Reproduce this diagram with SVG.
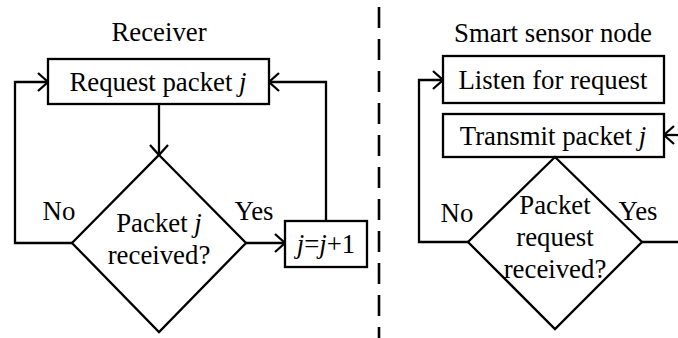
<svg xmlns="http://www.w3.org/2000/svg" width="678" height="338" viewBox="0 0 678 338">
  <style>
    text { font-family: "Liberation Serif", "Times New Roman", serif; font-size: 26.8px; fill: #000; text-anchor: middle; }
    .it { font-style: italic; }
    .shape { fill: #fff; stroke: #000; stroke-width: 2.3; }
    .wire { fill: none; stroke: #000; stroke-width: 2.3; stroke-linejoin: miter; }
    .divider { fill: none; stroke: #000; stroke-width: 2.6; stroke-dasharray: 21 11; }
  </style>
  <defs>
    <marker id="arrow" viewBox="-12 -11 14 22" markerWidth="14" markerHeight="22" refX="0" refY="0" orient="auto" markerUnits="userSpaceOnUse">
      <path d="M -10,-9 L 0,0 L -10,9" fill="none" stroke="#000" stroke-width="2.3"/>
    </marker>
  </defs>

  <rect width="678" height="338" fill="#fff"/>

  <!-- column titles -->
  <text x="159" y="41">Receiver</text>
  <text x="553" y="42">Smart sensor node</text>

  <!-- separator between the two sides -->
  <line class="divider" x1="379" y1="7" x2="379" y2="338"/>

  <!-- connectors -->
  <g id="connectors">
    <!-- receiver side -->
    <line class="wire" x1="159" y1="104" x2="159" y2="155" marker-end="url(#arrow)"/>
    <polyline class="wire" points="72,243 15,243 15,82 48,82" marker-end="url(#arrow)"/>
    <line class="wire" x1="246" y1="243" x2="285" y2="243" marker-end="url(#arrow)"/>
    <polyline class="wire" points="326,221 326,82 269,82" marker-end="url(#arrow)"/>
    <!-- sensor side -->
    <polyline class="wire" points="468,242 419,242 419,80 443,80" marker-end="url(#arrow)"/>
    <line class="wire" x1="642" y1="242" x2="680" y2="242"/>
    <line class="wire" x1="680" y1="135" x2="664" y2="135" marker-end="url(#arrow)"/>
  </g>

  <!-- receiver nodes -->
  <g id="request-packet">
    <rect class="shape" x="48" y="59" width="221" height="45"/>
    <text x="158" y="91">Request packet <tspan class="it">j</tspan></text>
  </g>

  <g id="packet-received">
    <polygon class="shape" points="159,155 246,243 159,332 72,243"/>
    <text x="159" y="232">Packet <tspan class="it">j</tspan></text>
    <text x="159" y="264">received?</text>
  </g>

  <g id="increment">
    <rect class="shape" x="285" y="221" width="82" height="46"/>
    <text x="326" y="253"><tspan class="it">j</tspan>=<tspan class="it">j</tspan>+1</text>
  </g>

  <!-- sensor nodes -->
  <g id="listen">
    <rect class="shape" x="443" y="56" width="221" height="47"/>
    <text x="553" y="89">Listen for request</text>
  </g>

  <g id="transmit">
    <rect class="shape" x="443" y="114" width="221" height="43"/>
    <text x="553" y="145">Transmit packet <tspan class="it">j</tspan></text>
  </g>

  <g id="request-received">
    <polygon class="shape" points="555,157 642,242 555,329 468,242"/>
    <text x="555" y="214">Packet</text>
    <text x="555" y="246">request</text>
    <text x="555" y="278">received?</text>
  </g>

  <!-- branch labels -->
  <g id="labels">
    <text x="59" y="220">No</text>
    <text x="254" y="220">Yes</text>
    <text x="457" y="222">No</text>
    <text x="638" y="220">Yes</text>
  </g>
</svg>
